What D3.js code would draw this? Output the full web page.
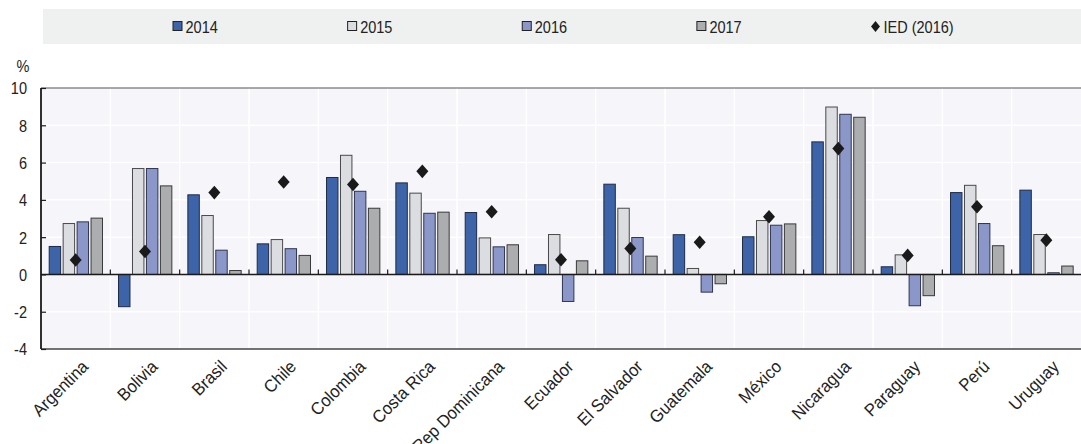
<!DOCTYPE html>
<html>
<head>
<meta charset="utf-8">
<script src="https://cdn.jsdelivr.net/npm/d3@7"></script>
<style>
  html, body { margin: 0; padding: 0; background: #ffffff; }
  svg text { font-family: "Liberation Sans", Arial, sans-serif; fill: #222; }
</style>
</head>
<body>
<svg id="chart" width="1081" height="444"></svg>
<script>
// Countries on the category axis
const countries = ["Argentina", "Bolivia", "Brasil", "Chile", "Colombia", "Costa Rica",
  "Rep Dominicana", "Ecuador", "El Salvador", "Guatemala", "México", "Nicaragua",
  "Paraguay", "Perú", "Uruguay"];

// Bar series (%)
const seriesNames = ["2014", "2015", "2016", "2017"];
const v2014 = [1.5, -1.73, 4.27, 1.64, 5.2, 4.91, 3.32, 0.52, 4.84, 2.13, 2.02, 7.11, 0.41, 4.39, 4.52];
const v2015 = [2.73, 5.68, 3.16, 1.87, 6.39, 4.36, 1.96, 2.14, 3.55, 0.32, 2.89, 8.98, 1.05, 4.78, 2.14];
const v2016 = [2.82, 5.68, 1.3, 1.38, 4.46, 3.28, 1.48, -1.45, 1.98, -0.95, 2.64, 8.59, -1.68, 2.73, 0.09];
const v2017 = [3.02, 4.75, 0.21, 1.02, 3.55, 3.34, 1.59, 0.73, 0.98, -0.5, 2.71, 8.43, -1.14, 1.54, 0.45];

// Marker series: IED (2016)
const ied2016 = [0.77, 1.23, 4.39, 4.96, 4.82, 5.53, 3.36, 0.79, 1.39, 1.73, 3.09, 6.75, 1.02, 3.63, 1.84];

// Value-axis ticks
const yTicks = [-4, -2, 0, 2, 4, 6, 8, 10];

const seriesValues = [v2014, v2015, v2016, v2017];
const colors = ["#3d64a9", "#dcdde0", "#8b97c9", "#acadae"];
const strokes = ["#1f2a44", "#4a4a4a", "#2f3550", "#3a3a3a"];

// Condensed look for legend and axis numbers
const FS = 16.5, SQ = 0.88;

const svg = d3.select("#chart");
const plot = { left: 41, right: 1081, top: 88, bottom: 349 };

const x0 = d3.scaleBand().domain(countries).range([plot.left, plot.right]).padding(0);
const x1 = d3.scaleBand().domain(seriesNames).range([8.2, 61.5]).paddingInner(0.18).paddingOuter(0);
const y = d3.scaleLinear().domain([-4, 10]).range([plot.bottom, plot.top]);

function label(parent, x, yy, txt, anchor) {
  return parent.append("text")
    .attr("transform", `translate(${x},${yy}) scale(${SQ},1)`)
    .attr("text-anchor", anchor || "start")
    .attr("font-size", FS)
    .text(txt);
}

// Legend band
const legend = svg.append("g");
legend.append("rect").attr("x", 43).attr("y", 9).attr("width", 1081 - 43).attr("height", 35)
  .attr("fill", "#eff0f0");
const legendX = d3.scalePoint().domain([...seriesNames, "IED (2016)"]).range([172.5, 871]);
seriesNames.forEach((s, i) => {
  const lx = legendX(s);
  legend.append("rect").attr("x", lx + 0.5).attr("y", 21.5).attr("width", 9).attr("height", 9)
    .attr("fill", colors[i]).attr("stroke", "#222").attr("stroke-width", 1);
  label(legend, lx + 13, 32.5, s);
});
{
  const lx = legendX("IED (2016)");
  legend.append("path")
    .attr("d", `M${lx + 4.5},21 L${lx + 9},26.5 L${lx + 4.5},32 L${lx},26.5 Z`)
    .attr("fill", "#1a1a1a");
  label(legend, lx + 12.5, 32.5, "IED (2016)");
}

// Plot background
svg.append("rect").attr("x", plot.left).attr("y", plot.top)
  .attr("width", plot.right - plot.left).attr("height", plot.bottom - plot.top)
  .attr("fill", "#f5f5fa");

// Gridlines
svg.append("g").selectAll("line").data(yTicks.filter(t => t > -4 && t < 10)).join("line")
  .attr("x1", plot.left).attr("x2", plot.right)
  .attr("y1", d => y(d)).attr("y2", d => y(d))
  .attr("stroke", "#ffffff").attr("stroke-width", 1.5);
svg.append("g").selectAll("line").data(countries.slice(1)).join("line")
  .attr("x1", d => x0(d)).attr("x2", d => x0(d))
  .attr("y1", plot.top).attr("y2", plot.bottom)
  .attr("stroke", "#ffffff").attr("stroke-width", 1.5);

// Bars
const groups = svg.append("g").selectAll("g").data(countries).join("g")
  .attr("transform", d => `translate(${x0(d)},0)`);
groups.selectAll("rect").data((c, ci) => seriesNames.map((s, si) => ({ s, si, v: seriesValues[si][ci] })))
  .join("rect")
  .attr("x", d => x1(d.s))
  .attr("width", x1.bandwidth())
  .attr("y", d => y(Math.max(0, d.v)))
  .attr("height", d => Math.abs(y(d.v) - y(0)))
  .attr("fill", d => colors[d.si])
  .attr("stroke", d => strokes[d.si])
  .attr("stroke-width", 1);

// Frame lines
svg.append("line").attr("x1", plot.left).attr("x2", plot.right).attr("y1", plot.top).attr("y2", plot.top)
  .attr("stroke", "#555").attr("stroke-width", 1.2);
svg.append("line").attr("x1", plot.left).attr("x2", plot.right).attr("y1", plot.bottom).attr("y2", plot.bottom)
  .attr("stroke", "#444").attr("stroke-width", 1.5);

// Zero line with category ticks
svg.append("line").attr("x1", plot.left).attr("x2", plot.right).attr("y1", y(0)).attr("y2", y(0))
  .attr("stroke", "#1a1a1a").attr("stroke-width", 1.6);
svg.append("g").selectAll("line").data(countries.slice(1)).join("line")
  .attr("x1", d => x0(d)).attr("x2", d => x0(d))
  .attr("y1", y(0)).attr("y2", y(0) - 5)
  .attr("stroke", "#1a1a1a").attr("stroke-width", 1.2);

// Value axis
const yAxis = svg.append("g").attr("transform", `translate(${plot.left},0)`)
  .call(d3.axisRight(y).tickValues(yTicks).tickSize(5).tickFormat(d => String(d)));
yAxis.select(".domain").attr("stroke", "#1a1a1a").attr("stroke-width", 1.8).attr("d", `M0,${plot.top}V${plot.bottom}`);
yAxis.selectAll(".tick line").attr("stroke", "#1a1a1a").attr("stroke-width", 1.2);
yAxis.selectAll(".tick text")
  .attr("x", 0).attr("dy", "0.36em")
  .attr("transform", `translate(-14,0) scale(${SQ},1)`)
  .attr("text-anchor", "end")
  .attr("font-size", FS).attr("fill", "#222")
  .attr("font-family", "Liberation Sans, Arial, sans-serif");
label(svg, 23, 72, "%", "middle");

// IED markers
svg.append("g").selectAll("path").data(countries).join("path")
  .attr("transform", (d, i) => `translate(${x0(d) + x0.bandwidth() / 2},${y(ied2016[i])})`)
  .attr("d", "M0,-6.8 L6,0 L0,6.8 L-6,0 Z")
  .attr("fill", "#1a1a1a");

// Category labels
svg.append("g").selectAll("text").data(countries).join("text")
  .attr("transform", d => `translate(${x0(d) + x0.bandwidth() / 2 + 5},${plot.bottom + 10}) rotate(-45) scale(0.94,1)`)
  .attr("text-anchor", "end")
  .attr("dy", "0.7em")
  .attr("font-size", 17.5)
  .text(d => d);
</script>
</body>
</html>
